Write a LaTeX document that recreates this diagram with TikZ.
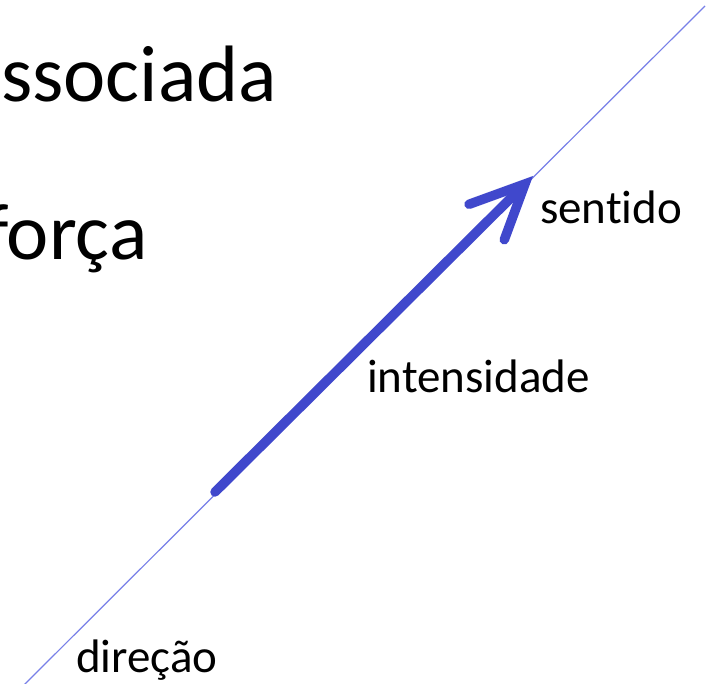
\documentclass[tikz,border=0pt]{standalone}
\usepackage{fontspec}
\setmainfont{Carlito}[Ligatures=NoCommon]
\usetikzlibrary{arrows.meta}
\definecolor{forceblue}{RGB}{64,72,204}
\definecolor{lineblue}{RGB}{120,128,232}
\begin{document}
\begin{tikzpicture}[x=1pt, y=-1pt,
	bigtext/.style={anchor=base west, inner sep=0, font=\fontsize{80}{96}\selectfont},
	tag/.style={anchor=base west, inner sep=0, font=\fontsize{47}{56}\selectfont},
	vecline/.style={forceblue, line width=9.5pt, line cap=round, -{Straight Barb[length=54pt, width=50pt, line cap=round]}}]
		\useasboundingbox (0,0) rectangle (713,684);
		\clip (0,0) rectangle (713,684);
		\fill[white] (0,0) rectangle (713,684);
		\node[bigtext] (assoc) at (1,102) {ssociada};
		\node[bigtext] (forca) at (-16,260) {força};
		\coordinate (dirA) at (22,687);
		\coordinate (dirB) at (705,6);
		\draw[lineblue, line width=1.2pt] (dirA) -- (dirB);
		\coordinate (intA) at (215,492);
		\coordinate (intB) at (533,176);
		\draw[vecline] (intA) -- (intB);
		\node[tag] (sentido) at (540,224) {sentido};
		\node[tag] (intens) at (367,393) {intensidade};
		\node[tag] (direcao) at (76,672) {direção};
\end{tikzpicture}
\end{document}
